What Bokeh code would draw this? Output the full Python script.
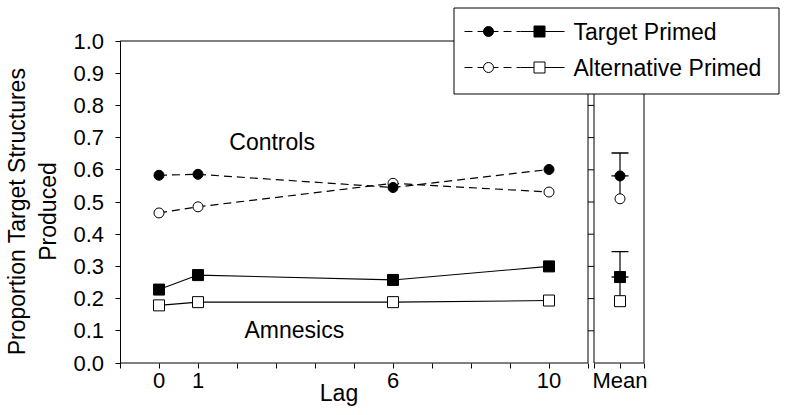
from bokeh.plotting import figure
from bokeh.models import ColumnDataSource, FixedTicker, Label, PrintfTickFormatter, Range1d, TeeHead, Whisker
from bokeh.embed import file_html
from bokeh.resources import INLINE

# proportion of target structures produced, by lag
lags = [0, 1, 6, 10]
controls_target = [0.583, 0.586, 0.545, 0.601]
controls_alt = [0.466, 0.485, 0.558, 0.531]
amnesics_target = [0.228, 0.273, 0.258, 0.300]
amnesics_alt = [0.179, 0.189, 0.189, 0.194]

# means over lags (controls, amnesics) with the upper half of the error bar
mean_target = [0.581, 0.267]
mean_target_err = [0.071, 0.079]
mean_alt = [0.510, 0.192]
mean_alt_err = [0.071, 0.075]

lag_ticks = [0, 1, 6, 10]
lag_minor = [-1, 2, 3, 4, 5, 7, 8, 9, 11]
y_ticks = [0.0, 0.1, 0.2, 0.3, 0.4, 0.5, 0.6, 0.7, 0.8, 0.9, 1.0]

FONT = "Liberation Sans"

# page geometry in pixels; the frame fills the whole canvas and the
# axes are pinned inside it, so every text can sit anywhere on the page
W, H = 780, 407
X_LEFT_PX = 119.5   # where lag = -1 sits
Y_ZERO_PX = 362.5   # where proportion = 0 sits
PX_LAG = 39.0       # pixels per lag unit
PX_PROP = 322.0     # pixels per unit of proportion


def cx(px):
    return -1 + (px - X_LEFT_PX) / PX_LAG


def cy(py):
    return (Y_ZERO_PX - py) / PX_PROP


# lag panel spans -1..11; the "Mean" panel sits 6 px to its right, 50 px wide
MAIN_L, MAIN_R = -1, 11
MEAN_L = MAIN_R + 6 / PX_LAG
MEAN_X = MAIN_R + 32 / PX_LAG
MEAN_R = MAIN_R + 56 / PX_LAG

p = figure(width=W, height=H,
    x_range=Range1d(cx(0), cx(W)),
    y_range=Range1d(cy(H), cy(0)),
    output_backend="svg",
    toolbar_location=None,
    tools="",
    min_border=0)
p.outline_line_color = None
p.grid.visible = False

xa = p.xaxis[0]
xa.fixed_location = 0
xa.ticker = FixedTicker(ticks=lag_ticks + [MEAN_X], minor_ticks=lag_minor + [MEAN_L, MEAN_R])
xa.formatter = PrintfTickFormatter(format="%d")
xa.major_label_overrides = {MEAN_X: "Mean"}
xa.axis_line_color = None
xa.major_tick_in = 0
xa.major_tick_out = 5
xa.minor_tick_in = 0
xa.minor_tick_out = 5
xa.minor_tick_line_color = "black"
xa.major_label_standoff = 0

ya = p.yaxis[0]
ya.fixed_location = MAIN_L
ya.ticker = FixedTicker(ticks=y_ticks)
ya.formatter = PrintfTickFormatter(format="%.1f")
ya.bounds = (0, 1)
ya.axis_line_color = "black"
ya.major_tick_in = 0
ya.major_tick_out = 5
ya.minor_tick_line_color = None
ya.major_label_standoff = 11

for ax in (xa, ya):
    ax.major_label_text_font = FONT
    ax.major_label_text_font_size = "22px"
    ax.major_label_text_color = "black"
    ax.major_tick_line_color = "black"

# panel borders: lag panel top/right/bottom, mean panel left/right/bottom/top
p.segment(x0=[MAIN_L, MAIN_R, MAIN_L, MEAN_L, MEAN_R, MEAN_L, MEAN_L],
    y0=[1, 0, 0, 0, 0, 0, 1],
    x1=[MAIN_R, MAIN_R, MAIN_R, MEAN_L, MEAN_R, MEAN_R, MEAN_R],
    y1=[1, 1, 0, 1, 1, 0, 1],
    line_color="black", line_width=1)
# tick marks on the left side of the mean panel
p.segment(x0=[MAIN_R] * 10, y0=y_ticks[1:], x1=[MEAN_L] * 10, y1=y_ticks[1:],
    line_color="black", line_width=1)

dash = "8 5"
p.line(lags, controls_target, line_color="black", line_width=1.2, line_dash=dash)
p.line(lags, controls_alt, line_color="black", line_width=1.2, line_dash=dash)
p.line(lags, amnesics_target, line_color="black", line_width=1.1)
p.line(lags, amnesics_alt, line_color="black", line_width=1.1)

# error bars on the means, drawn under the markers
means = ColumnDataSource(dict(
    x=[MEAN_X, MEAN_X],
    target=mean_target,
    target_up=[m + e for m, e in zip(mean_target, mean_target_err)],
    alt=mean_alt,
    alt_up=[m + e for m, e in zip(mean_alt, mean_alt_err)]))
for lo, up in (("target", "target_up"), ("alt", "alt_up")):
    p.add_layout(Whisker(base="x", lower=lo, upper=up, source=means, dimension="height",
        line_color="black", line_width=1.2, lower_head=None,
        upper_head=TeeHead(size=17, line_color="black", line_width=1.4),
        level="underlay"))

filled = dict(fill_color="black", line_color="black")
hollow = dict(fill_color="white", line_color="black", line_width=1)
p.scatter(lags, controls_alt, marker="circle", size=10, **hollow)
p.scatter(lags, controls_target, marker="circle", size=10, **filled)
p.scatter(lags, amnesics_alt, marker="square", size=11, **hollow)
p.scatter(lags, amnesics_target, marker="square", size=11, **filled)
p.scatter([MEAN_X], [mean_alt[0]], marker="circle", size=10, **hollow)
p.scatter([MEAN_X], [mean_target[0]], marker="circle", size=10, **filled)
p.scatter([MEAN_X], [mean_alt[1]], marker="square", size=11, **hollow)
p.scatter([MEAN_X], [mean_target[1]], marker="square", size=11, **filled)

text = dict(text_font=FONT, text_font_size="23px", text_color="black")
p.add_layout(Label(x=2.9, y=0.686, text="Controls", text_align="center", text_baseline="middle", **text))
p.add_layout(Label(x=3.47, y=0.102, text="Amnesics", text_align="center", text_baseline="middle", **text))
p.add_layout(Label(x=cx(338.5), y=cy(392), text="Lag", text_align="center", text_baseline="middle", **text))
p.add_layout(Label(x=cx(32), y=cy(211), text="Proportion Target Structures\nProduced", angle=1.5708,
    text_align="center", text_baseline="middle", **text))

# legend: dashed circle sample (controls) joined to solid square sample (amnesics)
p.quad(left=cx(453.5), right=cx(778.5), top=cy(7.5), bottom=cy(93.5),
    fill_color="white", line_color="black", line_width=1)
rows = [("Target Primed", filled, cy(31)), ("Alternative Primed", hollow, cy(67))]
for label, style, ry in rows:
    p.line([cx(464), cx(520)], [ry, ry], line_color="black", line_width=1.2, line_dash=dash)
    p.line([cx(520), cx(564)], [ry, ry], line_color="black", line_width=1.1)
    p.scatter([cx(488)], [ry], marker="circle", size=10, **style)
    p.scatter([cx(539)], [ry], marker="square", size=11, **style)
    p.add_layout(Label(x=cx(573), y=ry, text=label, text_baseline="middle", **text))

open("out.html", "w").write(file_html(p, INLINE, title="Target structures by lag"))
